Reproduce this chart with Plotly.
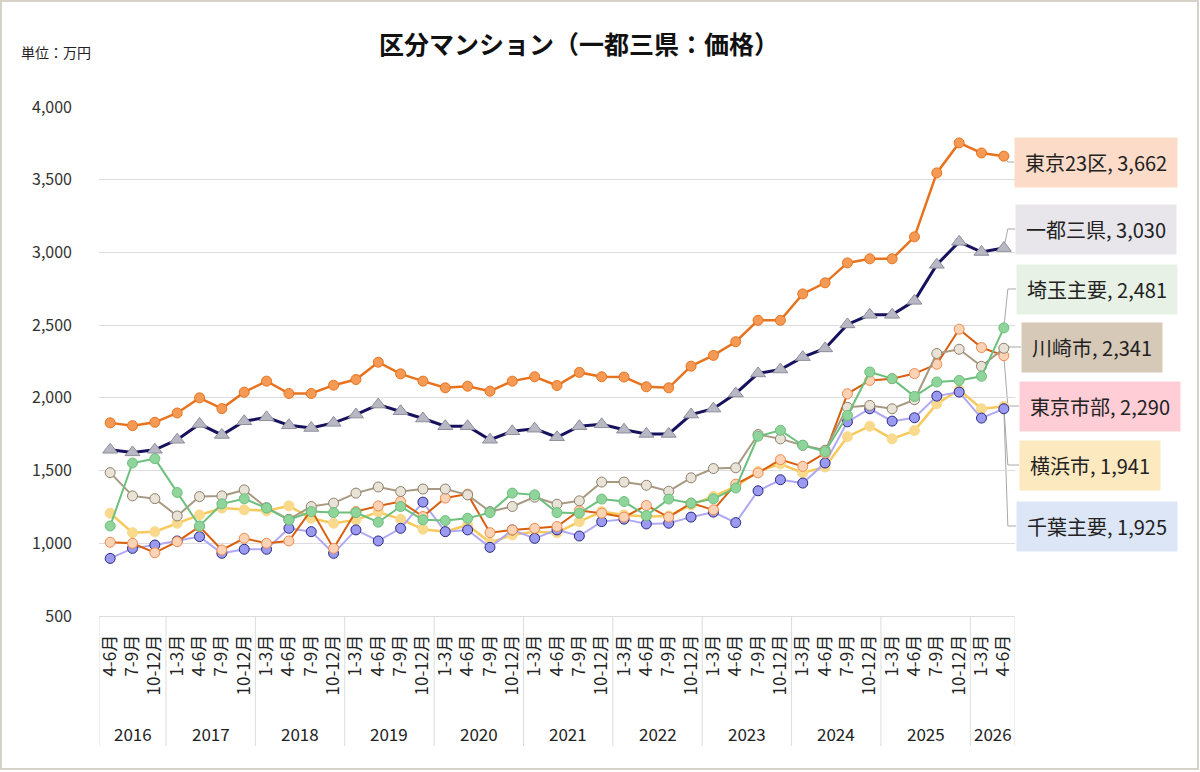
import plotly.graph_objects as go

# ---------------- data ----------------
years = (["2016"] * 3 + ["2017"] * 4 + ["2018"] * 4 + ["2019"] * 4 + ["2020"] * 4 +
         ["2021"] * 4 + ["2022"] * 4 + ["2023"] * 4 + ["2024"] * 4 + ["2025"] * 4 + ["2026"] * 2)
quarters = (["4-6月", "7-9月", "10-12月"] +
            ["1-3月", "4-6月", "7-9月", "10-12月"] * 9 +
            ["1-3月", "4-6月"])

tokyo23 = [1828, 1809, 1832, 1896, 2000, 1926, 2039, 2115, 2030, 2030, 2087, 2126,
           2245, 2165, 2115, 2069, 2080, 2046, 2115, 2145, 2085, 2175, 2145,
           2143, 2076, 2069, 2218, 2292, 2386, 2533, 2533, 2715, 2791, 2928,
           2956, 2956, 3107, 3547, 3753, 3684, 3662]
ittosanken = [1643, 1625, 1643, 1712, 1820, 1745, 1839, 1866, 1811, 1793, 1828, 1885,
              1954, 1908, 1858, 1805, 1805, 1712, 1770, 1788, 1729, 1805, 1818,
              1781, 1752, 1752, 1885, 1926, 2030, 2168, 2195, 2280, 2340, 2505,
              2571, 2571, 2667, 2915, 3073, 3003, 3030]
saitama = [1119, 1552, 1582, 1349, 1119, 1271, 1306, 1242, 1160, 1218, 1211, 1211,
           1145, 1253, 1161, 1156, 1172, 1211, 1345, 1333, 1211, 1207, 1304,
           1287, 1190, 1304, 1276, 1306, 1380, 1736, 1777, 1674, 1630, 1879,
           2178, 2132, 2010, 2109, 2120, 2148, 2481]
kawasaki = [1486, 1326, 1307, 1188, 1321, 1326, 1367, 1245, 1165, 1253, 1276, 1345,
            1387, 1356, 1373, 1373, 1333, 1218, 1253, 1317, 1269, 1292, 1421,
            1421, 1399, 1358, 1450, 1514, 1519, 1748, 1718, 1674, 1640, 1935,
            1948, 1925, 1987, 2305, 2334, 2217, 2341]
tokyo_city = [1007, 1000, 935, 1011, 1115, 954, 1034, 1000, 1016, 1230, 965, 1218,
              1257, 1287, 1184, 1311, 1338, 1073, 1092, 1103, 1115, 1225, 1207,
              1180, 1260, 1180, 1276, 1230, 1407, 1484, 1575, 1529, 1620, 2028,
              2120, 2132, 2167, 2231, 2472, 2346, 2290]
yokohama = [1207, 1073, 1080, 1138, 1195, 1242, 1230, 1223, 1257, 1172, 1138, 1161,
            1215, 1166, 1097, 1080, 1126, 1005, 1057, 1080, 1073, 1149, 1218,
            1195, 1184, 1188, 1264, 1322, 1391, 1494, 1546, 1484, 1525, 1733,
            1805, 1718, 1775, 1959, 2056, 1925, 1941]
chiba = [896, 965, 988, 1016, 1046, 931, 959, 959, 1103, 1080, 931, 1092,
         1016, 1103, 1283, 1080, 1092, 972, 1092, 1034, 1092, 1050, 1149,
         1166, 1133, 1138, 1180, 1214, 1142, 1361, 1437, 1414, 1552, 1835,
         1925, 1840, 1863, 2012, 2040, 1861, 1925]

# ---------------- layout constants ----------------
FONT = "Noto Sans CJK JP"
W_FIG, H_FIG = 1200, 772
L, R, T, B = 99, 185, 107, 156
PW = W_FIG - L - R
PH = H_FIG - T - B
Y0, Y1 = 500, 4000

periods = [f"{y} {q}" for y, q in zip(years, quarters)]
n = len(periods)


def px_x(px):
    return (px - L) / PW


def px_y_paper(py):
    return (H_FIG - B - py) / PH


def px_y_data(py):
    return Y0 + (H_FIG - B - py) / PH * (Y1 - Y0)


series = [
    # name, values, line color, width, marker symbol, fill, edge, size, box colour, box (left px, centre y px)
    ("横浜市", yokohama, "#F7C95A", 2.5, "circle", "#F9D98C", "#F9D98C", 10, "#FCE9C0", (1019, 465)),
    ("千葉主要", chiba, "#B0A8F2", 2, "circle", "#9A9AF0", "#2A2A80", 10, "#DDE6F7", (1016, 526)),
    ("東京市部", tokyo_city, "#D95F10", 2, "circle", "#FDD3B5", "#EE8A50", 10, "#FECDD5", (1019, 406)),
    ("川崎市", kawasaki, "#A89A82", 2, "circle", "#E8E3D6", "#8E806C", 10, "#D7C9B8", (1021, 347)),
    ("埼玉主要", saitama, "#6CC07C", 2, "circle", "#8FD49B", "#6CC07C", 10, "#E7F1E5", (1016, 289)),
    ("一都三県", ittosanken, "#16125E", 3, "triangle-up", "#B8B8C4", "#8E8E9C", 13, "#E8E6EA", (1015, 229)),
    ("東京23区", tokyo23, "#E8731E", 2.5, "circle", "#F59A55", "#E8731E", 10, "#FCDCC8", (1014, 162)),
]

fig = go.Figure()
for name, vals, lc, lw, sym, mf, me, ms, _, _ in series:
    fig.add_trace(go.Scatter(
        x=periods, y=vals, mode="lines+markers", name=name,
        line=dict(color=lc, width=lw),
        marker=dict(symbol=sym, color=mf, size=ms, line=dict(color=me, width=1)),
        hovertemplate="%{y:,}<extra>" + name + "</extra>",
    ))

shapes = []
annotations = []
x_last = (n - 0.5) / n
for name, vals, lc, lw, sym, mf, me, ms, bc, (bx, by) in series:
    last = vals[-1]
    y_lab = px_y_data(by)
    x_elb = x_last + 4 / PW
    shapes.append(dict(type="line", xref="paper", yref="y", x0=x_last, y0=last,
                       x1=x_elb, y1=y_lab, line=dict(color="#A8A8A8", width=1), layer="below"))
    shapes.append(dict(type="line", xref="paper", yref="y", x0=x_elb, y0=y_lab,
                       x1=px_x(bx), y1=y_lab, line=dict(color="#A8A8A8", width=1), layer="below"))
    annotations.append(dict(
        xref="paper", yref="y", x=px_x(bx), y=y_lab, xanchor="left", yanchor="middle",
        text=f"{name}, {last:,}", showarrow=False, bgcolor=bc, borderpad=10,
        font=dict(family=FONT, size=20, color="#222222"),
    ))

# year group labels and dividers
groups = []
for i, y in enumerate(years):
    if not groups or groups[-1][0] != y:
        groups.append([y, i, i])
    else:
        groups[-1][2] = i
for y, i0, i1 in groups:
    annotations.append(dict(
        xref="x", yref="paper", x=(i0 + i1) / 2, y=px_y_paper(733), xanchor="center", yanchor="middle",
        text=y, showarrow=False, font=dict(family=FONT, size=17, color="#222222"),
    ))
    shapes.append(dict(type="line", xref="x", yref="paper", x0=i0 - 0.5, x1=i0 - 0.5,
                       y0=0, y1=px_y_paper(746), line=dict(color="#DCDCDC", width=1)))
shapes.append(dict(type="line", xref="x", yref="paper", x0=n - 0.5, x1=n - 0.5,
                   y0=0, y1=px_y_paper(746), line=dict(color="#DCDCDC", width=1)))

# unit label
annotations.append(dict(
    xref="paper", yref="paper", x=px_x(19), y=px_y_paper(52), xanchor="left", yanchor="middle",
    text="単位：万円", showarrow=False, font=dict(family=FONT, size=14, color="#222222"),
))

# outer frame
shapes.append(dict(type="rect", xref="paper", yref="paper",
                   x0=px_x(1), x1=px_x(1198), y0=px_y_paper(769), y1=px_y_paper(1),
                   line=dict(color="#D6D2CA", width=2), layer="below"))

fig.update_layout(
    width=W_FIG, height=H_FIG,
    margin=dict(l=L, r=R, t=T, b=B),
    paper_bgcolor="white", plot_bgcolor="white",
    showlegend=False,
    font=dict(family=FONT, color="#222222"),
    title=dict(text="<b>区分マンション（一都三県：価格）</b>", x=579 / W_FIG, xanchor="center",
               y=1 - 45 / H_FIG, yanchor="middle", font=dict(family=FONT, size=25, color="#111111")),
    shapes=shapes, annotations=annotations,
)
fig.update_yaxes(range=[Y0, Y1], dtick=500, tickformat=",", gridcolor="#DCDCDC", gridwidth=1,
                 zeroline=False, showline=False, ticks="", ticklabelstandoff=26,
                 tickfont=dict(family=FONT, size=16, color="#333333"), automargin=False)
fig.update_xaxes(type="category", range=[-0.5, n - 0.5], tickmode="array", tickvals=periods,
                 ticktext=quarters, tickangle=-90, showgrid=False, showline=True,
                 linecolor="#DCDCDC", linewidth=1, ticks="", ticklabelstandoff=11,
                 tickfont=dict(family=FONT, size=17, color="#222222"), automargin=False)

fig.write_html("out.html")
